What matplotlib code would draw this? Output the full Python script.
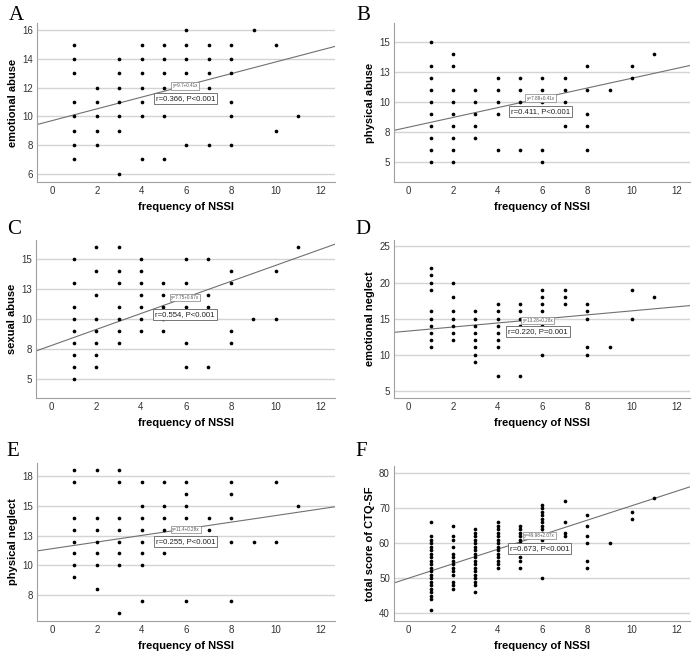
""" NSSI frequency vs CTQ-SF subscales """
import numpy as np
from matplotlib import pyplot as plt

plt.rcParams['font.family'] = ['Liberation Sans', 'DejaVu Sans']

# ---- data ----
a_x = [1, 1, 1, 1, 1, 1, 1, 1,
       2, 2, 2, 2, 2,
       3, 3, 3, 3, 3, 3, 3,
       4, 4, 4, 4, 4, 4, 4,
       5, 5, 5, 5, 5, 5, 5,
       6, 6, 6, 6, 6, 6,
       7, 7, 7, 7, 7, 7,
       8, 8, 8, 8, 8, 8,
       9, 10, 10, 11]
a_y = [15, 14, 13, 11, 10, 9, 8, 7,
       12, 11, 10, 9, 8,
       14, 13, 12, 11, 10, 9, 6,
       15, 14, 13, 12, 11, 10, 7,
       15, 14, 13, 12, 11, 10, 7,
       16, 15, 14, 13, 11, 8,
       15, 14, 13, 12, 11, 8,
       15, 14, 13, 11, 10, 8,
       16, 15, 9, 10]

b_x = [1, 1, 1, 1, 1, 1, 1, 1, 1, 1,
       2, 2, 2, 2, 2, 2, 2, 2, 2,
       3, 3, 3, 3, 3,
       4, 4, 4, 4, 4,
       5, 5, 5, 5,
       6, 6, 6, 6, 6,
       7, 7, 7, 7,
       8, 8, 8, 8, 8,
       9, 10, 10, 11]
b_y = [15, 13, 12, 11, 10, 9, 8, 7, 6, 5,
       14, 13, 11, 10, 9, 8, 7, 6, 5,
       11, 10, 9, 8, 7,
       12, 11, 10, 9, 6,
       12, 11, 10, 6,
       12, 11, 10, 6, 5,
       12, 11, 10, 8,
       13, 11, 9, 8, 6,
       11, 13, 12, 14]

c_x = [1, 1, 1, 1, 1, 1, 1, 1, 1,
       2, 2, 2, 2, 2, 2, 2, 2,
       3, 3, 3, 3, 3, 3, 3,
       4, 4, 4, 4, 4, 4, 4,
       5, 5, 5, 5, 5,
       6, 6, 6, 6, 6,
       7, 7, 7, 7,
       8, 8, 8, 8,
       9, 10, 10, 11]
c_y = [15, 13, 11, 10, 9, 8, 7, 6, 5,
       16, 14, 12, 10, 9, 8, 7, 6,
       16, 14, 13, 11, 10, 9, 8,
       15, 14, 13, 12, 11, 10, 9,
       13, 12, 11, 10, 9,
       15, 13, 11, 8, 6,
       15, 12, 11, 6,
       14, 13, 9, 8,
       10, 14, 10, 16]

d_x = [1, 1, 1, 1, 1, 1, 1, 1, 1, 1,
       2, 2, 2, 2, 2, 2, 2,
       3, 3, 3, 3, 3, 3, 3, 3,
       4, 4, 4, 4, 4, 4, 4, 4,
       5, 5, 5, 5, 5,
       6, 6, 6, 6, 6, 6, 6,
       7, 7, 7,
       8, 8, 8, 8, 8,
       9, 10, 10, 11]
d_y = [22, 21, 20, 19, 16, 15, 14, 13, 12, 11,
       20, 18, 16, 15, 14, 13, 12,
       16, 15, 14, 13, 12, 11, 10, 9,
       17, 16, 15, 14, 13, 12, 11, 7,
       17, 16, 15, 14, 7,
       19, 18, 17, 16, 15, 14, 10,
       19, 18, 17,
       17, 16, 15, 11, 10,
       11, 19, 15, 18]

e_x = [1, 1, 1, 1, 1, 1, 1, 1,
       2, 2, 2, 2, 2, 2, 2,
       3, 3, 3, 3, 3, 3, 3, 3,
       4, 4, 4, 4, 4, 4, 4, 4,
       5, 5, 5, 5, 5,
       6, 6, 6, 6, 6,
       7, 7,
       8, 8, 8, 8, 8,
       9, 10, 10, 11]
e_y = [18, 17, 14, 13, 12, 11, 10, 9,
       18, 14, 13, 12, 11, 10, 8,
       18, 17, 14, 13, 12, 11, 10, 6,
       17, 15, 14, 13, 12, 11, 10, 7,
       17, 15, 14, 13, 11,
       17, 16, 15, 14, 7,
       14, 13,
       17, 16, 14, 12, 7,
       12, 17, 12, 15]

f_x1 = [66, 62, 61, 60, 59, 58, 57, 56, 55, 54, 53, 52, 51, 50, 49, 48, 47, 46, 45, 44, 41]
f_x2 = [65, 62, 61, 59, 57, 56, 55, 54, 53, 52, 51, 49, 48, 47]
f_x3 = [64, 63, 62, 61, 60, 59, 58, 57, 56, 55, 54, 53, 52, 51, 50, 49, 48, 46]
f_x4 = [66, 65, 64, 63, 62, 61, 60, 59, 58, 57, 56, 55, 54, 53]
f_x5 = [65, 64, 63, 62, 61, 60, 59, 58, 56, 55, 53]
f_x6 = [71, 70, 69, 68, 67, 66, 65, 64, 63, 62, 61, 50]
f_x7 = [72, 66, 63, 62]
f_x8 = [68, 65, 62, 60, 55, 53]
f_x9 = [60]
f_x10 = [69, 67]
f_x11 = [73]
f_cols = [f_x1, f_x2, f_x3, f_x4, f_x5, f_x6, f_x7, f_x8, f_x9, f_x10, f_x11]
f_x = [i + 1 for i, col in enumerate(f_cols) for _ in col]
f_y = [v for col in f_cols for v in col]

# fit lines (intercept, slope) and stats as printed on the figure
fits = [(9.7, 0.41), (7.88, 0.41), (7.75, 0.67), (13.28, 0.28), (11.4, 0.28), (49.98, 2.07)]
eq_lbls = ['y=9.7+0.41x', 'y=7.88+0.41x', 'y=7.75+0.67x',
           'y=13.28+0.28x', 'y=11.4+0.28x', 'y=49.98+2.07x']
r_lbls = ['r=0.366, P<0.001', 'r=0.411, P<0.001', 'r=0.554, P<0.001',
          'r=0.220, P=0.001', 'r=0.255, P<0.001', 'r=0.673, P<0.001']
ylabels = ['emotional abuse', 'physical abuse', 'sexual abuse',
           'emotional neglect', 'physical neglect', 'total score of CTQ-SF']
panel_ids = ['A', 'B', 'C', 'D', 'E', 'F']

yticks = [[6, 8, 10, 12, 14, 16], [5, 7.5, 10, 12.5, 15], [5, 7.5, 10, 12.5, 15],
          [5, 10, 15, 20, 25], [7.5, 10, 12.5, 15, 17.5], [40, 50, 60, 70, 80]]
ytick_lbls = [['6', '8', '10', '12', '14', '16'], ['5', '8', '10', '13', '15'],
              ['5', '8', '10', '13', '15'], ['5', '10', '15', '20', '25'],
              ['8', '10', '13', '15', '18'], ['40', '50', '60', '70', '80']]
xticks = [0, 2, 4, 6, 8, 10, 12]

# ---- layout (pixel boxes: left, right, top, bottom) ----
W, H = 695, 659
boxes = [(37, 335, 23, 182), (394, 690, 23, 182),
         (36, 335, 240, 398), (394, 690, 240, 398),
         (37, 335, 463, 621), (394, 690, 466, 621)]
ylims = [(5.42, 16.51), (3.3, 16.6), (3.38, 16.56), (4.0, 25.9), (5.3, 18.63), (37.8, 82.0)]
xlims = [(-0.67, 12.63), (-0.64, 12.6), (-0.67, 12.63), (-0.64, 12.6), (-0.67, 12.63), (-0.64, 12.6)]
# annotation positions in data units: (x, y_eq, y_r)
ann = [(5.95, 12.12, 11.26), (5.92, 10.32, 9.17), (5.96, 11.77, 10.38),
       (5.8, 14.77, 13.2), (5.96, 13.0, 12.0), (5.87, 62.25, 58.4)]
# panel letter centres in pixels
letter_pos = [(16, 15), (363, 15), (14, 229), (363, 229), (13, 451), (361, 451)]

datasets = [(a_x, a_y), (b_x, b_y), (c_x, c_y), (d_x, d_y), (e_x, e_y), (f_x, f_y)]

fig = plt.figure(figsize=(W / 100, H / 100), dpi=100)

for ii, (xs, ys) in enumerate(datasets):
    l, r, t, b = boxes[ii]
    ax = fig.add_axes([l / W, 1 - b / H, (r - l) / W, (b - t) / H])

    ax.scatter(xs, ys, s=7, color='k', zorder=3, linewidths=0)

    # regression line across the full x range
    x0, x1 = xlims[ii]
    xx = np.array([x0, x1])
    c0, c1 = fits[ii]
    ax.plot(xx, c0 + c1 * xx, color='#707070', lw=0.8, zorder=2)

    ax.set_xlim(x0, x1)
    ax.set_ylim(*ylims[ii])
    ax.set_xticks(xticks)
    ax.set_yticks(yticks[ii])
    ax.set_yticklabels(ytick_lbls[ii])
    ax.tick_params(length=0, labelsize=7, colors='#333333', pad=3)

    ax.grid(axis='y', color='#d4d4d4', lw=1.0, zorder=0)
    ax.set_axisbelow(True)
    for sp in ['top', 'right']:
        ax.spines[sp].set_visible(False)
    for sp in ['left', 'bottom']:
        ax.spines[sp].set_color('#a0a0a0')
        ax.spines[sp].set_linewidth(0.8)

    ax.set_xlabel('frequency of NSSI', fontsize=8, fontweight='bold', labelpad=4)
    ax.set_ylabel(ylabels[ii], fontsize=8, fontweight='bold', labelpad=3)

    # fit equation + correlation labels
    ax_x, ye, yr = ann[ii]
    ax.text(ax_x, ye, eq_lbls[ii], fontsize=3.3, ha='center', va='center', color='#555555',
            zorder=4, bbox=dict(boxstyle='square,pad=0.25', fc='white', ec='#808080', lw=0.5))
    ax.text(ax_x, yr, r_lbls[ii], fontsize=5.6, ha='center', va='center', color='#222222',
            zorder=4, bbox=dict(boxstyle='square,pad=0.25', fc='white', ec='#606060', lw=0.6))

    # panel letter
    lx, ly = letter_pos[ii]
    fig.text(lx / W, 1 - ly / H, panel_ids[ii], fontsize=15,
             family='Liberation Serif', ha='center', va='center')

plt.savefig('out.png', dpi=100)
print('Saved out.png')
